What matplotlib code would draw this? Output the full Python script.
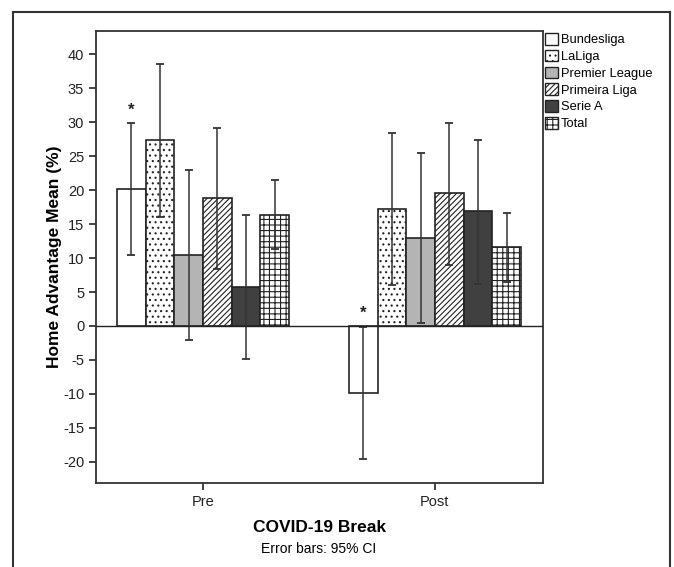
import numpy as np
import matplotlib.pyplot as plt
from matplotlib.patches import Patch
from matplotlib.lines import Line2D

plt.rcParams['font.family'] = ['Liberation Sans', 'DejaVu Sans']
plt.rcParams['hatch.linewidth'] = 0.8
plt.rcParams['axes.unicode_minus'] = False

periods = ['Pre', 'Post']
leagues = ['Bundesliga', 'LaLiga', 'Premier League', 'Primeira Liga', 'Serie A', 'Total']

# mean home advantage (%) per league, [Pre, Post]
means = {
    'Bundesliga':     [20.2, -9.85],
    'LaLiga':         [27.3, 17.2],
    'Premier League': [10.5, 13.0],
    'Primeira Liga':  [18.9, 19.5],
    'Serie A':        [5.7, 16.9],
    'Total':          [16.4, 11.6],
}
ci_low = {
    'Bundesliga':     [10.5, -19.6],
    'LaLiga':         [16.1, 6.0],
    'Premier League': [-2.0, 0.5],
    'Primeira Liga':  [8.4, 9.0],
    'Serie A':        [-4.9, 6.2],
    'Total':          [11.3, 6.5],
}
ci_high = {
    'Bundesliga':     [29.9, -0.2],
    'LaLiga':         [38.5, 28.4],
    'Premier League': [23.0, 25.4],
    'Primeira Liga':  [29.2, 29.9],
    'Serie A':        [16.3, 27.4],
    'Total':          [21.5, 16.6],
}
# significance markers: (period index, y position)
stars = [(0, 31.7), (1, 1.9)]

styles = {
    'Bundesliga':     dict(facecolor='white', hatch=None),
    'LaLiga':         dict(facecolor='white', hatch='...'),
    'Premier League': dict(facecolor='#b4b4b4', hatch=None),
    'Primeira Liga':  dict(facecolor='white', hatch='//////'),
    'Serie A':        dict(facecolor='#404040', hatch=None),
    'Total':          dict(facecolor='white', hatch='+++'),
}

fig = plt.figure(figsize=(6.74, 5.67), dpi=100)
ax = fig.add_axes([96/674, 84/567, 447/674, 452/567])

x = np.arange(len(periods))
width = 0.1237
n = len(leagues)
for i, lg in enumerate(leagues):
    pos = x + (i - (n - 1) / 2) * width
    m = np.array(means[lg])
    lo = m - np.array(ci_low[lg])
    hi = np.array(ci_high[lg]) - m
    st = styles[lg]
    ax.bar(pos, m, width, facecolor=st['facecolor'], hatch=st['hatch'],
           edgecolor='#222222', linewidth=1.2, zorder=2)
    ax.errorbar(pos, m, yerr=[lo, hi], fmt='none', ecolor='#333333',
                elinewidth=1.1, capsize=3, capthick=1.3, zorder=3)

bpos = x + (0 - (n - 1) / 2) * width
for pi, yv in stars:
    ax.text(bpos[pi], yv, '*', ha='center', va='center', fontsize=12,
            fontweight='bold', color='#222222')

ax.axhline(0, color='#222222', linewidth=1.0, zorder=4)
ax.set_xlim(-0.461, 1.466)
ax.set_ylim(-23.1, 43.4)
ax.set_yticks(np.arange(-20, 41, 5))
ax.set_xticks(x)
ax.set_xticklabels(periods)
ax.tick_params(axis='both', labelsize=10.5, colors='#222222', length=5, width=1.2, direction='out')
for s in ax.spines.values():
    s.set_color('#333333')
    s.set_linewidth(1.3)

ax.set_ylabel('Home Advantage Mean (%)', fontsize=12.5, fontweight='bold', labelpad=1)
ax.set_xlabel('COVID-19 Break', fontsize=12.5, fontweight='bold', labelpad=8)
fig.text(319/674, 1 - 549/567, 'Error bars: 95% CI', ha='center', va='center', fontsize=10)

handles = [Patch(facecolor=styles[lg]['facecolor'], hatch=styles[lg]['hatch'],
                 edgecolor='#222222', linewidth=1.0) for lg in leagues]
fig.legend(handles, leagues, loc='upper left', bbox_to_anchor=(545/674, 1 - 33/567),
           frameon=False, fontsize=9.3, handlelength=1.0, handleheight=1.0,
           handletextpad=0.25, labelspacing=0.28, borderaxespad=0, borderpad=0)

# outer frame around the figure
fc = '#333333'
fig.add_artist(Line2D([13/674, 13/674], [0, 1 - 12/567], transform=fig.transFigure, color=fc, lw=1.5))
fig.add_artist(Line2D([13/674, 670/674], [1 - 12/567, 1 - 12/567], transform=fig.transFigure, color=fc, lw=1.5))
fig.add_artist(Line2D([670/674, 670/674], [0, 1 - 12/567], transform=fig.transFigure, color=fc, lw=1.5))

fig.savefig('out.png', dpi=100)
